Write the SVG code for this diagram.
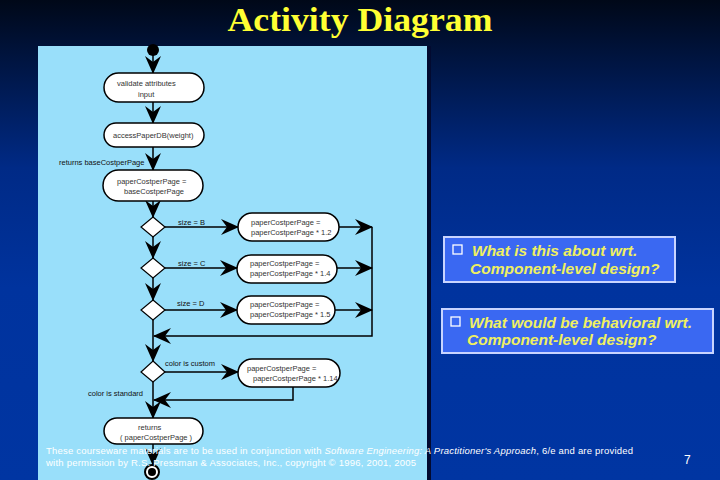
<svg xmlns="http://www.w3.org/2000/svg" width="720" height="480" viewBox="0 0 720 480">
<defs>
<linearGradient id="bg" x1="0" y1="0" x2="0" y2="1">
<stop offset="0" stop-color="#000818"/>
<stop offset="0.12" stop-color="#00143f"/>
<stop offset="0.35" stop-color="#002a86"/>
<stop offset="0.6" stop-color="#00339e"/>
<stop offset="1" stop-color="#0035a2"/>
</linearGradient>
<marker id="ah" viewBox="0 0 18 16" refX="17" refY="8" markerWidth="18" markerHeight="16" markerUnits="userSpaceOnUse" orient="auto">
<path d="M0,0 L18,8 L0,16 L6,8 Z" fill="#000"/>
</marker>
<style>
.node rect{fill:#fff;stroke:#000;stroke-width:1.5}
.node text{font-family:"Liberation Sans",Arial,sans-serif;font-size:7.5px;fill:#333}
.lbl{font-family:"Liberation Sans",Arial,sans-serif;font-size:7.5px;fill:#111}
.dia{fill:#fff;stroke:#000;stroke-width:1.2}
.conn line,.conn polyline{stroke:#000;stroke-width:1.5;fill:none}
.q rect{fill:#3a68f2;stroke:#c8d4ff;stroke-width:2}
.q text{font-family:"Liberation Sans",Arial,sans-serif;font-size:15.5px;font-weight:bold;font-style:italic;fill:#f0f060}
.q .cb{fill:none;stroke:#fff;stroke-width:1.3}
.foot{font-family:"Liberation Sans",Arial,sans-serif;font-size:9.5px;fill:#fff}
</style>
</defs>
<rect width="720" height="480" fill="url(#bg)"/>
<text x="360" y="31" text-anchor="middle" font-family="'Liberation Serif','Times New Roman',serif" font-weight="bold" font-size="34" fill="#ffff33" textLength="265" lengthAdjust="spacingAndGlyphs">Activity Diagram</text>
<rect x="427" y="46" width="4" height="434" fill="#020a30"/>
<rect x="38" y="46" width="389" height="434" fill="#99dffa"/>

<g class="conn">
<line x1="153" y1="50" x2="153" y2="73" marker-end="url(#ah)"/>
<line x1="153" y1="102" x2="153" y2="123" marker-end="url(#ah)"/>
<line x1="153" y1="147" x2="153" y2="170" marker-end="url(#ah)"/>
<line x1="153" y1="201" x2="153" y2="217" marker-end="url(#ah)"/>
<line x1="153" y1="237" x2="153" y2="258" marker-end="url(#ah)"/>
<line x1="153" y1="278" x2="153" y2="300" marker-end="url(#ah)"/>
<line x1="153" y1="320" x2="153" y2="361" marker-end="url(#ah)"/>
<line x1="153" y1="382" x2="153" y2="418" marker-end="url(#ah)"/>
<line x1="153" y1="444" x2="153" y2="465" marker-end="url(#ah)"/>
<line x1="165" y1="227" x2="238" y2="227" marker-end="url(#ah)"/>
<line x1="165" y1="268" x2="237" y2="268" marker-end="url(#ah)"/>
<line x1="165" y1="310" x2="237" y2="310" marker-end="url(#ah)"/>
<line x1="165" y1="372" x2="238" y2="372" marker-end="url(#ah)"/>
<line x1="339" y1="227" x2="372" y2="227" marker-end="url(#ah)"/>
<line x1="337" y1="268" x2="372" y2="268" marker-end="url(#ah)"/>
<line x1="335" y1="310" x2="372" y2="310" marker-end="url(#ah)"/>
<polyline points="372,227 372,336 154,336" marker-end="url(#ah)"/>
<polyline points="293,387 293,400 154,400" marker-end="url(#ah)"/>
</g>

<g id="start"><circle cx="153" cy="50" r="6" fill="#000"/></g>

<g id="n1" class="node"><rect x="104" y="73" width="100" height="29" rx="14.5"/>
<text x="117" y="86">validate attributes</text><text x="138" y="97">input</text></g>
<g id="n2" class="node"><rect x="104" y="123" width="100" height="24" rx="12"/>
<text x="113" y="138">accessPaperDB(weight)</text></g>
<text class="lbl" x="59" y="165">returns  baseCostperPage</text>
<g id="n3" class="node"><rect x="103" y="170" width="100" height="31" rx="15.5"/>
<text x="117" y="184">paperCostperPage  =</text><text x="124" y="194">baseCostperPage</text></g>

<g id="d1"><polygon class="dia" points="153,217 165,227 153,237 141,227"/></g>
<text class="lbl" x="178" y="225">size = B</text>
<g id="n4" class="node"><rect x="238" y="213" width="101" height="28" rx="14"/>
<text x="251" y="225">paperCostperPage  =</text><text x="251" y="235">paperCostperPage * 1.2</text></g>

<g id="d2"><polygon class="dia" points="153,258 165,268 153,278 141,268"/></g>
<text class="lbl" x="178" y="266">size = C</text>
<g id="n5" class="node"><rect x="237" y="255" width="100" height="28" rx="14"/>
<text x="250" y="266">paperCostperPage  =</text><text x="250" y="276">paperCostperPage * 1.4</text></g>

<g id="d3"><polygon class="dia" points="153,300 165,310 153,320 141,310"/></g>
<text class="lbl" x="177" y="306">size = D</text>
<g id="n6" class="node"><rect x="237" y="296" width="98" height="28" rx="14"/>
<text x="250" y="307">paperCostperPage  =</text><text x="250" y="317">paperCostperPage * 1.5</text></g>

<g id="d4"><polygon class="dia" points="153,361 165,372 153,382 141,372"/></g>
<text class="lbl" x="165" y="366">color is custom</text>
<g id="n7" class="node"><rect x="238" y="359" width="102" height="28" rx="14"/>
<text x="247" y="371">paperCostperPage  =</text><text x="253" y="381">paperCostperPage * 1.14</text></g>
<text class="lbl" x="88" y="396">color is standard</text>

<g id="n8" class="node"><rect x="104" y="418" width="99" height="26" rx="13"/>
<text x="138" y="430">returns</text><text x="120" y="440">( paperCostperPage )</text></g>

<g id="end"><circle cx="152" cy="472" r="7" fill="#fff" stroke="#000" stroke-width="2"/><circle cx="152" cy="472" r="4" fill="#000"/></g>

<g id="q1" class="q"><rect x="444" y="237" width="231" height="45"/>
<rect class="cb" x="453" y="245" width="9" height="9"/>
<text x="472" y="256">What is this about wrt.</text><text x="470" y="274">Component-level design?</text></g>
<g id="q2" class="q"><rect x="442" y="309" width="271" height="44"/>
<rect class="cb" x="451" y="317" width="9" height="9"/>
<text x="469" y="328">What would be behavioral wrt.</text><text x="467" y="345">Component-level design?</text></g>

<text class="foot" x="46" y="454" textLength="587" lengthAdjust="spacing">These courseware materials are to be used in conjunction with <tspan font-style="italic">Software Engineering: A Practitioner's Approach</tspan>, 6/e and are provided</text>
<text class="foot" x="46" y="466" textLength="370" lengthAdjust="spacing">with permission by R.S. Pressman &amp; Associates, Inc., copyright © 1996, 2001, 2005</text>
<text x="684" y="464" font-family="'Liberation Sans',Arial,sans-serif" font-size="12" fill="#fff">7</text>
</svg>
